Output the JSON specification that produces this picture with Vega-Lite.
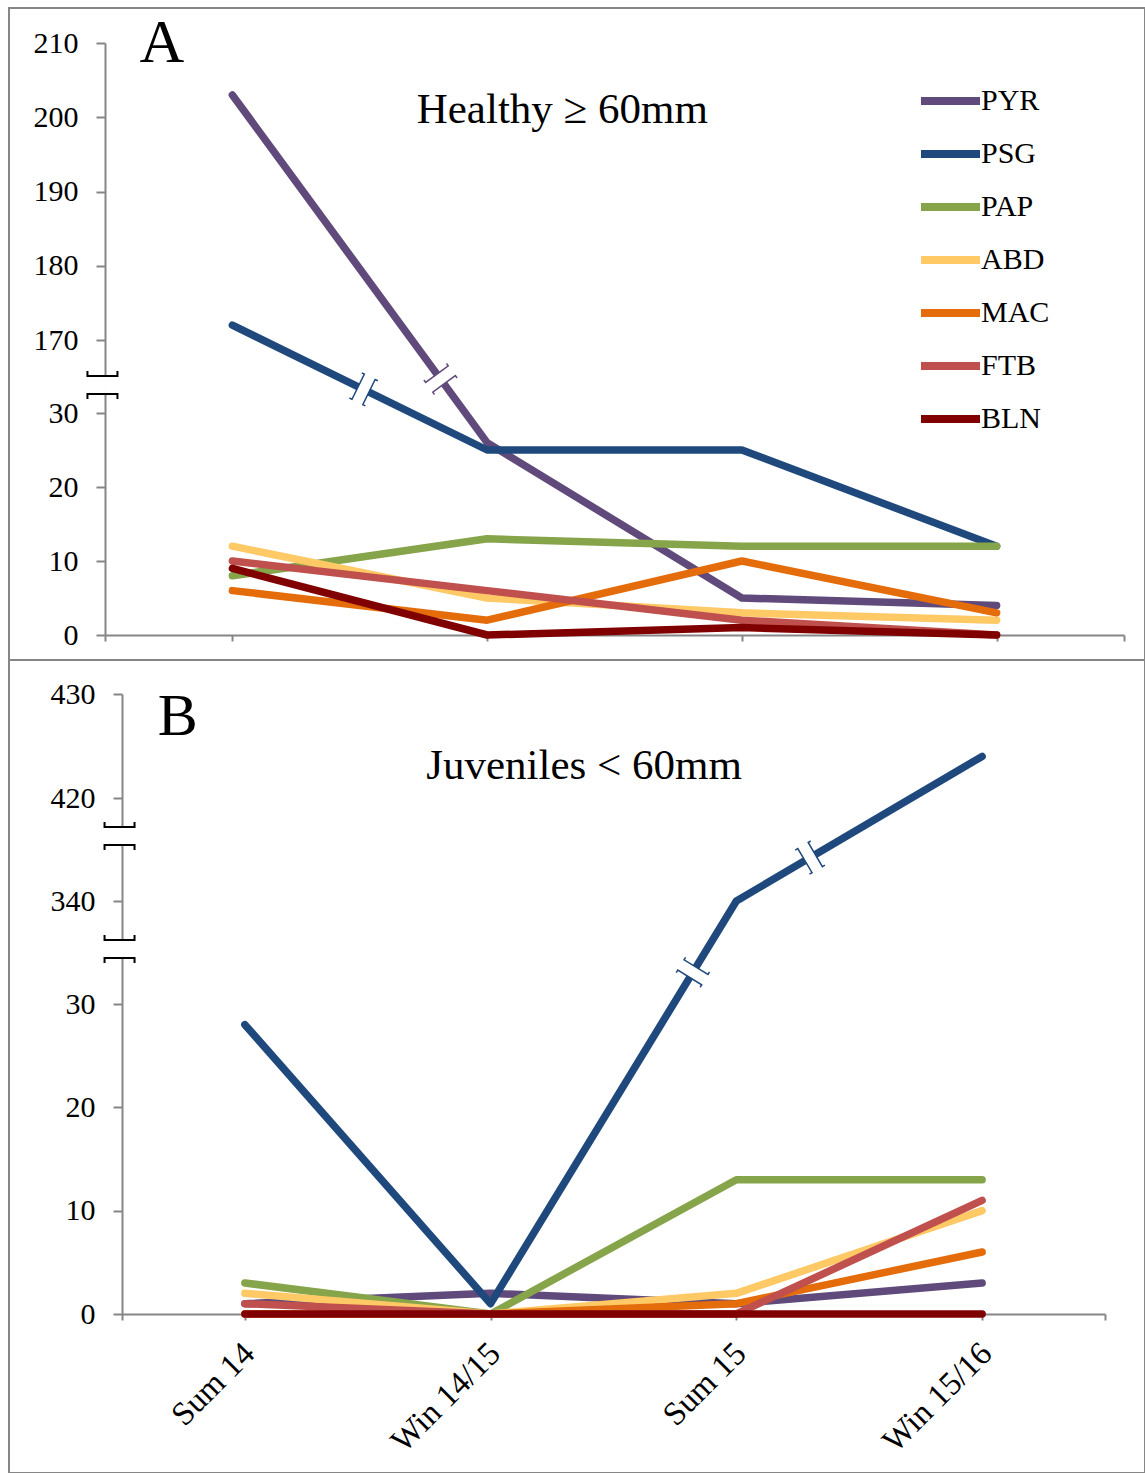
{
  "$schema": "https://vega.github.io/schema/vega-lite/v6.json",
  "width": 1136,
  "height": 1465,
  "padding": {"left": 9, "top": 8, "right": 0, "bottom": 0},
  "autosize": {"type": "none"},
  "background": "#ffffff",
  "config": {
    "view": {"stroke": "#868686", "strokeWidth": 2},
    "font": "Liberation Serif",
    "axis": {"domainColor": "#868686", "domainWidth": 2, "tickColor": "#868686", "tickWidth": 2, "labelFont": "Liberation Serif", "labelFontSize": 30, "labelColor": "#000000", "grid": false, "labelFlush": false, "labelOverlap": false}
  },
  "datasets": {
    "healthy": [
      {"i": 0, "season": "Sum 14", "species": "PYR", "n": 203},
      {"i": 1, "season": "Win 14/15", "species": "PYR", "n": 26},
      {"i": 2, "season": "Sum 15", "species": "PYR", "n": 5},
      {"i": 3, "season": "Win 15/16", "species": "PYR", "n": 4},
      {"i": 0, "season": "Sum 14", "species": "PSG", "n": 172},
      {"i": 1, "season": "Win 14/15", "species": "PSG", "n": 25},
      {"i": 2, "season": "Sum 15", "species": "PSG", "n": 25},
      {"i": 3, "season": "Win 15/16", "species": "PSG", "n": 12},
      {"i": 0, "season": "Sum 14", "species": "PAP", "n": 8},
      {"i": 1, "season": "Win 14/15", "species": "PAP", "n": 13},
      {"i": 2, "season": "Sum 15", "species": "PAP", "n": 12},
      {"i": 3, "season": "Win 15/16", "species": "PAP", "n": 12},
      {"i": 0, "season": "Sum 14", "species": "ABD", "n": 12},
      {"i": 1, "season": "Win 14/15", "species": "ABD", "n": 5},
      {"i": 2, "season": "Sum 15", "species": "ABD", "n": 3},
      {"i": 3, "season": "Win 15/16", "species": "ABD", "n": 2},
      {"i": 0, "season": "Sum 14", "species": "MAC", "n": 6},
      {"i": 1, "season": "Win 14/15", "species": "MAC", "n": 2},
      {"i": 2, "season": "Sum 15", "species": "MAC", "n": 10},
      {"i": 3, "season": "Win 15/16", "species": "MAC", "n": 3},
      {"i": 0, "season": "Sum 14", "species": "FTB", "n": 10},
      {"i": 1, "season": "Win 14/15", "species": "FTB", "n": 6},
      {"i": 2, "season": "Sum 15", "species": "FTB", "n": 2},
      {"i": 3, "season": "Win 15/16", "species": "FTB", "n": 0},
      {"i": 0, "season": "Sum 14", "species": "BLN", "n": 9},
      {"i": 1, "season": "Win 14/15", "species": "BLN", "n": 0},
      {"i": 2, "season": "Sum 15", "species": "BLN", "n": 1},
      {"i": 3, "season": "Win 15/16", "species": "BLN", "n": 0}
    ],
    "juv": [
      {"i": 0, "season": "Sum 14", "species": "PYR", "n": 1},
      {"i": 1, "season": "Win 14/15", "species": "PYR", "n": 2},
      {"i": 2, "season": "Sum 15", "species": "PYR", "n": 1},
      {"i": 3, "season": "Win 15/16", "species": "PYR", "n": 3},
      {"i": 0, "season": "Sum 14", "species": "PSG", "n": 28},
      {"i": 1, "season": "Win 14/15", "species": "PSG", "n": 1},
      {"i": 2, "season": "Sum 15", "species": "PSG", "n": 340},
      {"i": 3, "season": "Win 15/16", "species": "PSG", "n": 424},
      {"i": 0, "season": "Sum 14", "species": "PAP", "n": 3},
      {"i": 1, "season": "Win 14/15", "species": "PAP", "n": 0},
      {"i": 2, "season": "Sum 15", "species": "PAP", "n": 13},
      {"i": 3, "season": "Win 15/16", "species": "PAP", "n": 13},
      {"i": 0, "season": "Sum 14", "species": "ABD", "n": 2},
      {"i": 1, "season": "Win 14/15", "species": "ABD", "n": 0},
      {"i": 2, "season": "Sum 15", "species": "ABD", "n": 2},
      {"i": 3, "season": "Win 15/16", "species": "ABD", "n": 10},
      {"i": 0, "season": "Sum 14", "species": "MAC", "n": 0},
      {"i": 1, "season": "Win 14/15", "species": "MAC", "n": 0},
      {"i": 2, "season": "Sum 15", "species": "MAC", "n": 1},
      {"i": 3, "season": "Win 15/16", "species": "MAC", "n": 6},
      {"i": 0, "season": "Sum 14", "species": "FTB", "n": 1},
      {"i": 1, "season": "Win 14/15", "species": "FTB", "n": 0},
      {"i": 2, "season": "Sum 15", "species": "FTB", "n": 0},
      {"i": 3, "season": "Win 15/16", "species": "FTB", "n": 11},
      {"i": 0, "season": "Sum 14", "species": "BLN", "n": 0},
      {"i": 1, "season": "Win 14/15", "species": "BLN", "n": 0},
      {"i": 2, "season": "Sum 15", "species": "BLN", "n": 0},
      {"i": 3, "season": "Win 15/16", "species": "BLN", "n": 0}
    ]
  },
  "layer": [
    {
      "data": {"values": [{}]},
      "mark": {"type": "rule", "stroke": "#868686", "strokeWidth": 2},
      "encoding": {
        "y": {"datum": -3.378, "type": "quantitative", "scale": {"domain": [0, 30, 170, 210], "range": [627, 405, 332, 35], "nice": false, "zero": false}, "axis": null}
      }
    },
    {
      "data": {"name": "healthy"},
      "mark": {"type": "line", "strokeWidth": 7.5, "strokeCap": "round", "strokeJoin": "round"},
      "encoding": {
        "x": {"field": "i", "type": "quantitative", "scale": {"domain": [-0.5, 3.5], "range": [96, 1115], "nice": false, "zero": false},
          "axis": {"orient": "bottom", "offset": -838, "values": [-0.5, 0, 1, 2, 3, 3.5], "labels": false, "title": null, "tickSize": 6}},
        "y": {"field": "n", "type": "quantitative", "scale": {"domain": [0, 30, 170, 210], "range": [627, 405, 332, 35], "nice": false, "zero": false},
          "axis": {"orient": "left", "offset": -96, "values": [0, 10, 20, 30, 170, 180, 190, 200, 210], "title": null, "tickSize": 9, "labelPadding": 18}},
        "color": {"field": "species", "type": "nominal",
          "scale": {"domain": ["PYR", "PSG", "PAP", "ABD", "MAC", "FTB", "BLN"], "range": ["#604A7B", "#1F497D", "#86A44A", "#FFC966", "#E46C0A", "#C0504D", "#800000"]},
          "legend": {"orient": "none", "legendX": 908, "legendY": 69, "title": null, "symbolType": "stroke", "symbolSize": 3481, "symbolStrokeWidth": 8, "clipHeight": 48, "rowPadding": 5, "labelOffset": -3, "padding": 0, "labelFont": "Liberation Serif", "labelFontSize": 30, "labelColor": "#000000"}}
      }
    },
    {
      "data": {"values": [{}]},
      "mark": {"type": "point", "shape": "M -0.43 -0.5 L 0.43 -0.5 L 0.43 0.5 L -0.43 0.5 Z", "size": 784, "angle": 26.2, "filled": true, "fill": "#ffffff", "strokeWidth": 0, "opacity": 1},
      "encoding": {
        "x": {"datum": 0.515, "type": "quantitative", "scale": {"domain": [-0.5, 3.5], "range": [96, 1115], "nice": false, "zero": false}, "axis": null},
        "y": {"datum": 75.3, "type": "quantitative", "scale": {"domain": [0, 30, 170, 210], "range": [627, 405, 332, 35], "nice": false, "zero": false}, "axis": null}
      }
    },
    {
      "data": {"values": [{}]},
      "mark": {"type": "point", "shape": "M -0.64 -1 L -0.43 -1 L -0.43 1 L -0.64 1 M 0.64 -1 L 0.43 -1 L 0.43 1 L 0.64 1", "size": 784, "angle": 26.2, "filled": false, "stroke": "#1F497D", "strokeWidth": 1.5, "opacity": 1},
      "encoding": {
        "x": {"datum": 0.515, "type": "quantitative", "scale": {"domain": [-0.5, 3.5], "range": [96, 1115], "nice": false, "zero": false}, "axis": null},
        "y": {"datum": 75.3, "type": "quantitative", "scale": {"domain": [0, 30, 170, 210], "range": [627, 405, 332, 35], "nice": false, "zero": false}, "axis": null}
      }
    },
    {
      "data": {"values": [{}]},
      "mark": {"type": "point", "shape": "M -0.43 -0.5 L 0.43 -0.5 L 0.43 0.5 L -0.43 0.5 Z", "size": 784, "angle": 53.8, "filled": true, "fill": "#ffffff", "strokeWidth": 0, "opacity": 1},
      "encoding": {
        "x": {"datum": 0.817, "type": "quantitative", "scale": {"domain": [-0.5, 3.5], "range": [96, 1115], "nice": false, "zero": false}, "axis": null},
        "y": {"datum": 95.2, "type": "quantitative", "scale": {"domain": [0, 30, 170, 210], "range": [627, 405, 332, 35], "nice": false, "zero": false}, "axis": null}
      }
    },
    {
      "data": {"values": [{}]},
      "mark": {"type": "point", "shape": "M -0.64 -1 L -0.43 -1 L -0.43 1 L -0.64 1 M 0.64 -1 L 0.43 -1 L 0.43 1 L 0.64 1", "size": 784, "angle": 53.8, "filled": false, "stroke": "#604A7B", "strokeWidth": 1.5, "opacity": 1},
      "encoding": {
        "x": {"datum": 0.817, "type": "quantitative", "scale": {"domain": [-0.5, 3.5], "range": [96, 1115], "nice": false, "zero": false}, "axis": null},
        "y": {"datum": 95.2, "type": "quantitative", "scale": {"domain": [0, 30, 170, 210], "range": [627, 405, 332, 35], "nice": false, "zero": false}, "axis": null}
      }
    },
    {
      "data": {"values": [{}]},
      "mark": {"type": "point", "shape": "M -0.3 -0.6 L 0.3 -0.6 L 0.3 0.6 L -0.3 0.6 Z", "size": 900, "filled": true, "fill": "#ffffff", "strokeWidth": 0, "opacity": 1},
      "encoding": {
        "x": {"datum": -0.51, "type": "quantitative", "scale": {"domain": [-0.5, 3.5], "range": [96, 1115], "nice": false, "zero": false}, "axis": null},
        "y": {"datum": 83.7, "type": "quantitative", "scale": {"domain": [0, 30, 170, 210], "range": [627, 405, 332, 35], "nice": false, "zero": false}, "axis": null}
      }
    },
    {
      "data": {"values": [{}]},
      "mark": {"type": "point", "shape": "M -1 -0.93 L -1 -0.6 L 1 -0.6 L 1 -0.93 M -1 0.93 L -1 0.6 L 1 0.6 L 1 0.93", "size": 900, "filled": false, "stroke": "#000000", "strokeWidth": 2, "opacity": 1},
      "encoding": {
        "x": {"datum": -0.51, "type": "quantitative", "scale": {"domain": [-0.5, 3.5], "range": [96, 1115], "nice": false, "zero": false}, "axis": null},
        "y": {"datum": 83.7, "type": "quantitative", "scale": {"domain": [0, 30, 170, 210], "range": [627, 405, 332, 35], "nice": false, "zero": false}, "axis": null}
      }
    },
    {
      "data": {"values": [{"t": "A"}]},
      "mark": {"type": "text", "font": "Liberation Serif", "fontSize": 62, "align": "center", "baseline": "alphabetic", "color": "#000000"},
      "encoding": {
        "x": {"datum": -0.277, "type": "quantitative", "scale": {"domain": [-0.5, 3.5], "range": [96, 1115], "nice": false, "zero": false}, "axis": null},
        "y": {"datum": 207.5, "type": "quantitative", "scale": {"domain": [0, 30, 170, 210], "range": [627, 405, 332, 35], "nice": false, "zero": false}, "axis": null},
        "text": {"field": "t"}
      }
    },
    {
      "data": {"values": [{"t": "Healthy ≥ 60mm"}]},
      "mark": {"type": "text", "font": "Liberation Serif", "fontSize": 43, "align": "center", "baseline": "alphabetic", "color": "#000000"},
      "encoding": {
        "x": {"datum": 1.295, "type": "quantitative", "scale": {"domain": [-0.5, 3.5], "range": [96, 1115], "nice": false, "zero": false}, "axis": null},
        "y": {"datum": 199.2, "type": "quantitative", "scale": {"domain": [0, 30, 170, 210], "range": [627, 405, 332, 35], "nice": false, "zero": false}, "axis": null},
        "text": {"field": "t"}
      }
    },
    {
      "data": {"name": "juv"},
      "mark": {"type": "line", "strokeWidth": 7.5, "strokeCap": "round", "strokeJoin": "round"},
      "encoding": {
        "x": {"field": "i", "type": "quantitative", "scale": {"domain": [-0.5, 3.5], "range": [113, 1096], "nice": false, "zero": false},
          "axis": {"orient": "bottom", "offset": -159, "values": [-0.5, 0, 1, 2, 3, 3.5], "title": null, "tickSize": 6,
            "labelExpr": "datum.value === 0 ? 'Sum 14' : datum.value === 1 ? 'Win 14/15' : datum.value === 2 ? 'Sum 15' : datum.value === 3 ? 'Win 15/16' : ''",
            "labelAngle": -45, "labelAlign": "right", "labelBaseline": "middle", "labelPadding": 28, "labelOffset": 4, "labelFontSize": 33}},
        "y": {"field": "n", "type": "quantitative", "scale": {"domain": [0, 30, 340, 420, 430], "range": [1306, 996, 893, 790, 686], "nice": false, "zero": false},
          "axis": {"orient": "left", "offset": -113, "values": [0, 10, 20, 30, 340, 420, 430], "title": null, "tickSize": 9, "labelPadding": 18}},
        "color": {"field": "species", "type": "nominal",
          "scale": {"domain": ["PYR", "PSG", "PAP", "ABD", "MAC", "FTB", "BLN"], "range": ["#604A7B", "#1F497D", "#86A44A", "#FFC966", "#E46C0A", "#C0504D", "#800000"]},
          "legend": null}
      }
    },
    {
      "data": {"values": [{}]},
      "mark": {"type": "point", "shape": "M -0.43 -0.5 L 0.43 -0.5 L 0.43 0.5 L -0.43 0.5 Z", "size": 784, "angle": -58.6, "filled": true, "fill": "#ffffff", "strokeWidth": 0, "opacity": 1},
      "encoding": {
        "x": {"datum": 1.823, "type": "quantitative", "scale": {"domain": [-0.5, 3.5], "range": [113, 1096], "nice": false, "zero": false}, "axis": null},
        "y": {"datum": 125.4, "type": "quantitative", "scale": {"domain": [0, 30, 340, 420, 430], "range": [1306, 996, 893, 790, 686], "nice": false, "zero": false}, "axis": null}
      }
    },
    {
      "data": {"values": [{}]},
      "mark": {"type": "point", "shape": "M -0.64 -1 L -0.43 -1 L -0.43 1 L -0.64 1 M 0.64 -1 L 0.43 -1 L 0.43 1 L 0.64 1", "size": 784, "angle": -58.6, "filled": false, "stroke": "#1F497D", "strokeWidth": 1.5, "opacity": 1},
      "encoding": {
        "x": {"datum": 1.823, "type": "quantitative", "scale": {"domain": [-0.5, 3.5], "range": [113, 1096], "nice": false, "zero": false}, "axis": null},
        "y": {"datum": 125.4, "type": "quantitative", "scale": {"domain": [0, 30, 340, 420, 430], "range": [1306, 996, 893, 790, 686], "nice": false, "zero": false}, "axis": null}
      }
    },
    {
      "data": {"values": [{}]},
      "mark": {"type": "point", "shape": "M -0.43 -0.5 L 0.43 -0.5 L 0.43 0.5 L -0.43 0.5 Z", "size": 784, "angle": -30.5, "filled": true, "fill": "#ffffff", "strokeWidth": 0, "opacity": 1},
      "encoding": {
        "x": {"datum": 2.3, "type": "quantitative", "scale": {"domain": [-0.5, 3.5], "range": [113, 1096], "nice": false, "zero": false}, "axis": null},
        "y": {"datum": 373.7, "type": "quantitative", "scale": {"domain": [0, 30, 340, 420, 430], "range": [1306, 996, 893, 790, 686], "nice": false, "zero": false}, "axis": null}
      }
    },
    {
      "data": {"values": [{}]},
      "mark": {"type": "point", "shape": "M -0.64 -1 L -0.43 -1 L -0.43 1 L -0.64 1 M 0.64 -1 L 0.43 -1 L 0.43 1 L 0.64 1", "size": 784, "angle": -30.5, "filled": false, "stroke": "#1F497D", "strokeWidth": 1.5, "opacity": 1},
      "encoding": {
        "x": {"datum": 2.3, "type": "quantitative", "scale": {"domain": [-0.5, 3.5], "range": [113, 1096], "nice": false, "zero": false}, "axis": null},
        "y": {"datum": 373.7, "type": "quantitative", "scale": {"domain": [0, 30, 340, 420, 430], "range": [1306, 996, 893, 790, 686], "nice": false, "zero": false}, "axis": null}
      }
    },
    {
      "data": {"values": [{"v": 390.5}, {"v": 195.5}]},
      "mark": {"type": "point", "shape": "M -0.3 -0.6 L 0.3 -0.6 L 0.3 0.6 L -0.3 0.6 Z", "size": 900, "filled": true, "fill": "#ffffff", "strokeWidth": 0, "opacity": 1},
      "encoding": {
        "x": {"datum": -0.51, "type": "quantitative", "scale": {"domain": [-0.5, 3.5], "range": [113, 1096], "nice": false, "zero": false}, "axis": null},
        "y": {"field": "v", "type": "quantitative", "scale": {"domain": [0, 30, 340, 420, 430], "range": [1306, 996, 893, 790, 686], "nice": false, "zero": false}, "axis": null}
      }
    },
    {
      "data": {"values": [{"v": 390.5}, {"v": 195.5}]},
      "mark": {"type": "point", "shape": "M -1 -0.93 L -1 -0.6 L 1 -0.6 L 1 -0.93 M -1 0.93 L -1 0.6 L 1 0.6 L 1 0.93", "size": 900, "filled": false, "stroke": "#000000", "strokeWidth": 2, "opacity": 1},
      "encoding": {
        "x": {"datum": -0.51, "type": "quantitative", "scale": {"domain": [-0.5, 3.5], "range": [113, 1096], "nice": false, "zero": false}, "axis": null},
        "y": {"field": "v", "type": "quantitative", "scale": {"domain": [0, 30, 340, 420, 430], "range": [1306, 996, 893, 790, 686], "nice": false, "zero": false}, "axis": null}
      }
    },
    {
      "data": {"values": [{"t": "B"}]},
      "mark": {"type": "text", "font": "Liberation Serif", "fontSize": 60, "align": "center", "baseline": "alphabetic", "color": "#000000"},
      "encoding": {
        "x": {"datum": -0.273, "type": "quantitative", "scale": {"domain": [-0.5, 3.5], "range": [113, 1096], "nice": false, "zero": false}, "axis": null},
        "y": {"datum": 426.06, "type": "quantitative", "scale": {"domain": [0, 30, 340, 420, 430], "range": [1306, 996, 893, 790, 686], "nice": false, "zero": false}, "axis": null},
        "text": {"field": "t"}
      }
    },
    {
      "data": {"values": [{"t": "Juveniles < 60mm"}]},
      "mark": {"type": "text", "font": "Liberation Serif", "fontSize": 43, "align": "center", "baseline": "alphabetic", "color": "#000000"},
      "encoding": {
        "x": {"datum": 1.38, "type": "quantitative", "scale": {"domain": [-0.5, 3.5], "range": [113, 1096], "nice": false, "zero": false}, "axis": null},
        "y": {"datum": 421.8, "type": "quantitative", "scale": {"domain": [0, 30, 340, 420, 430], "range": [1306, 996, 893, 790, 686], "nice": false, "zero": false}, "axis": null},
        "text": {"field": "t"}
      }
    }
  ],
  "resolve": {"scale": {"x": "independent", "y": "independent"}}
}
